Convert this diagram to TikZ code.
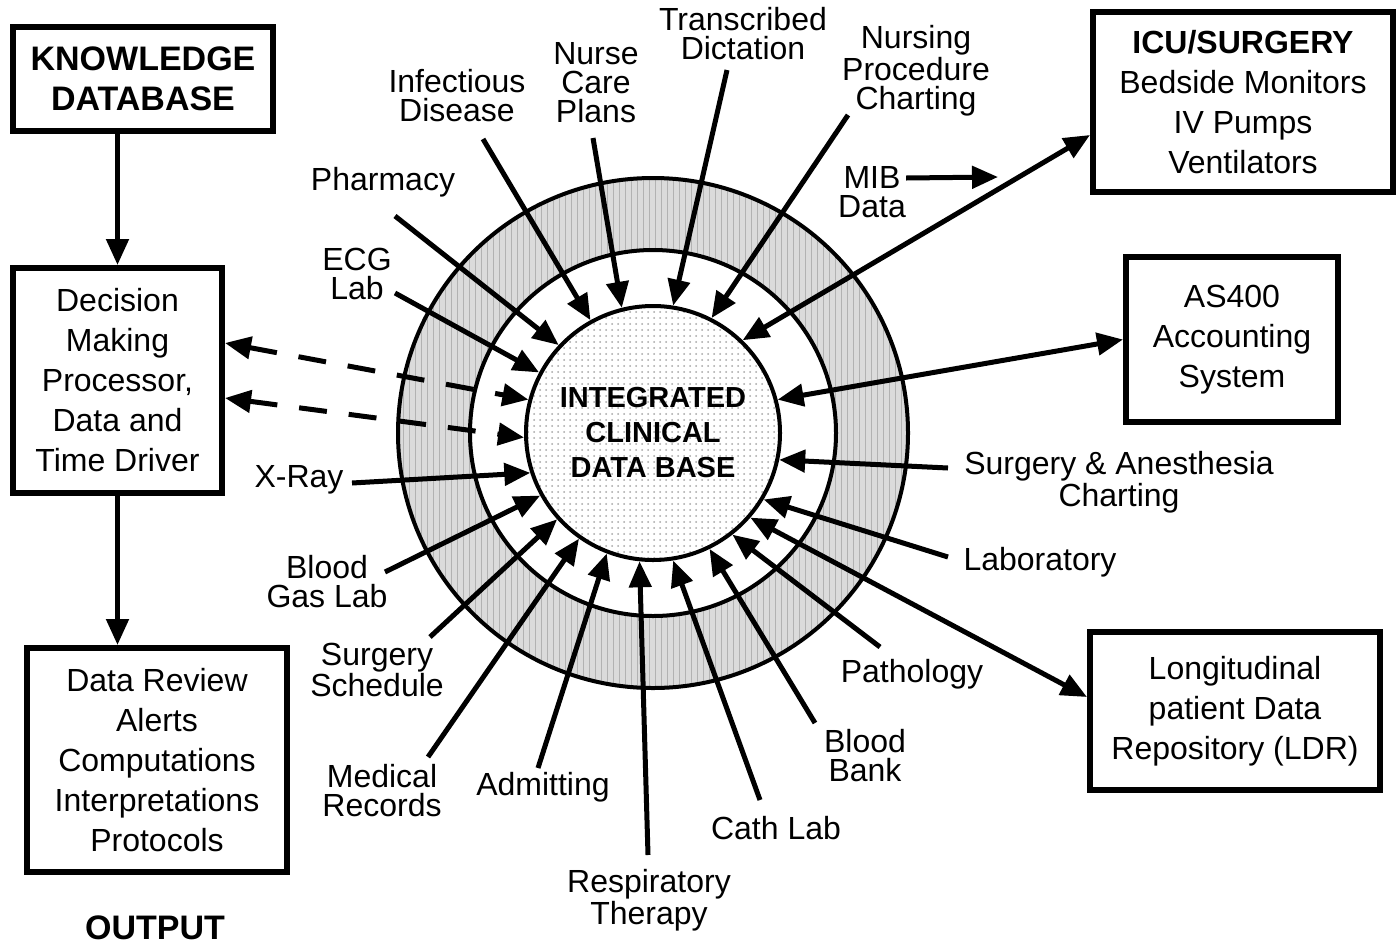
\documentclass[tikz,border=0pt]{standalone}
\usepackage{fontspec}
\setmainfont{Liberation Sans}
\usetikzlibrary{arrows.meta,patterns}

\begin{document}
\begin{tikzpicture}[x=0.5pt,y=-0.5pt]
	\tikzstyle{box} = [draw, line width=3pt, align=center, inner sep=0pt, font=\fontsize{16}{20}\selectfont]
	\tikzstyle{source} = [align=center, inner sep=0pt, font=\fontsize{16}{14.5}\selectfont]
	\tikzstyle{hub} = [circle, draw, line width=2pt, minimum size=127pt, inner sep=0pt, pattern=dots, pattern color=gray!70, align=center, font=\bfseries\fontsize{14.5}{17.5}\selectfont]
	\tikzstyle{ringline} = [line width=2pt]
	\tikzset{>={Triangle[length=13pt,width=11pt]}}
	\tikzset{feed/.style = {line width=2.5pt, ->}}
	\tikzset{link/.style = {line width=2.5pt, <->}}
	\tikzset{dashlink/.style = {link, dash pattern=on 14pt off 11pt}}
	\useasboundingbox (0,0) rectangle (1397,948);
	
	% central data base with its ring
	\coordinate (c) at (653,433);
	\fill[gray!28] (c) circle (255);
	\fill[pattern=vertical lines, pattern color=gray!60] (c) circle (255);
	\fill[white] (c) circle (183);
	\draw[ringline] (c) circle (255) (c) circle (183);
	\node[hub](db) at (c) {INTEGRATED\\CLINICAL\\DATA BASE};
	
	% left column
	\node[box, font=\bfseries\fontsize{17}{20}\selectfont, minimum width=130pt, minimum height=52pt](know) at (143,79) {KNOWLEDGE\\DATABASE};
	\node[box, minimum width=104.5pt, minimum height=112.5pt](dec) at (117.5,380.5) {Decision\\Making\\Processor,\\Data and\\Time Driver};
	\node[box, minimum width=130pt, minimum height=112pt](rev) at (157,760) {Data Review\\Alerts\\Computations\\Interpretations\\Protocols};
	\node[font=\bfseries\fontsize{17}{20}\selectfont](out) at (155,928) {OUTPUT};
	\draw[feed](dec.north |- know.south) to (dec.north);
	\draw[feed](dec.south) to (dec.south |- rev.north);
	\draw[dashlink]([yshift=18.75pt]dec.east) to (db.165);
	\draw[dashlink]([yshift=-8.75pt]dec.east) to (db.182);
	
	% right column
	\node[box, minimum width=150pt, minimum height=90pt](icu) at (1243,102) {{\bfseries ICU/SURGERY}\\Bedside Monitors\\IV Pumps\\Ventilators};
	\node[box, minimum width=106pt, minimum height=82.5pt](as400) at (1232,339.5) {AS400\\Accounting\\System};
	\node[box, minimum width=145pt, minimum height=79pt](ldr) at (1235,711) {Longitudinal\\patient Data\\Repository (LDR)};
	\draw[link](db.46) to ([yshift=-16.5pt]icu.west);
	\draw[link](db.15) to (as400.west);
	\draw[link](db.-41) to ([yshift=7pt]ldr.west);
	
	\node[source](mib) at (872,192) {MIB\\Data};
	\coordinate (mib-e) at (998,177);
	\draw[feed]([yshift=7pt]mib.east) to (mib-e);
	
	% sources feeding the data base
	\node[source](pharm) at (383,182) {Pharmacy};
	\coordinate (pharm-s) at (395,216);
	\draw[feed](pharm-s) to (db.137);
	
	\node[source](ecg) at (357,274) {ECG\\Lab};
	\coordinate (ecg-s) at (395,293);
	\draw[feed](ecg-s) to (db.152);
	
	\node[source](infect) at (457,96) {Infectious\\Disease};
	\coordinate (infect-s) at (483,139);
	\draw[feed](infect-s) to (db.119);
	
	\node[source](nurse) at (596,83) {Nurse\\Care\\Plans};
	\coordinate (nurse-s) at (593,138);
	\draw[feed](nurse-s) to (db.104);
	
	\node[source](trans) at (743,34) {Transcribed\\Dictation};
	\coordinate (trans-s) at (727,70);
	\draw[feed](trans-s) to (db.81);
	
	\node[source](nproc) at (916,71) {Nursing\\Procedure\\Charting};
	\coordinate (nproc-s) at (848,115);
	\draw[feed](nproc-s) to (db.63);
	
	\node[source](surgan) at (1119,482) {Surgery \& Anesthesia\\Charting};
	\coordinate (surgan-s) at (948,468);
	\draw[feed](surgan-s) to (db.-12);
	
	\node[source](lab) at (1040,562) {Laboratory};
	\coordinate (lab-s) at (948,557);
	\draw[feed](lab-s) to (db.-31);
	
	\node[source](path) at (912,674) {Pathology};
	\coordinate (path-s) at (880,647);
	\draw[feed](path-s) to (db.-52);
	
	\node[source](bbank) at (865,756) {Blood\\Bank};
	\coordinate (bbank-s) at (815,723);
	\draw[feed](bbank-s) to (db.-64);
	
	\node[source](cath) at (776,828) {Cath Lab};
	\coordinate (cath-s) at (760,800);
	\draw[feed](cath-s) to (db.-81);
	
	\node[source](resp) at (649,900) {Respiratory\\Therapy};
	\coordinate (resp-s) at (648,855);
	\draw[feed](resp-s) to (db.-96);
	
	\node[source](admit) at (543,787) {Admitting};
	\coordinate (admit-s) at (538,768);
	\draw[feed](admit-s) to (db.-111);
	
	\node[source](medrec) at (382,791) {Medical\\Records};
	\coordinate (medrec-s) at (428,757);
	\draw[feed](medrec-s) to (db.-125);
	
	\node[source](sursch) at (377,670) {Surgery\\Schedule};
	\coordinate (sursch-s) at (430,637);
	\draw[feed](sursch-s) to (db.-138);
	
	\node[source](bgas) at (327,582) {Blood\\Gas Lab};
	\coordinate (bgas-s) at (385,572);
	\draw[feed](bgas-s) to (db.-151);
	
	\node[source](xray) at (299,480) {X-Ray};
	\coordinate (xray-s) at (352,483);
	\draw[feed](xray-s) to (db.-162);
	
\end{tikzpicture}
\end{document}
